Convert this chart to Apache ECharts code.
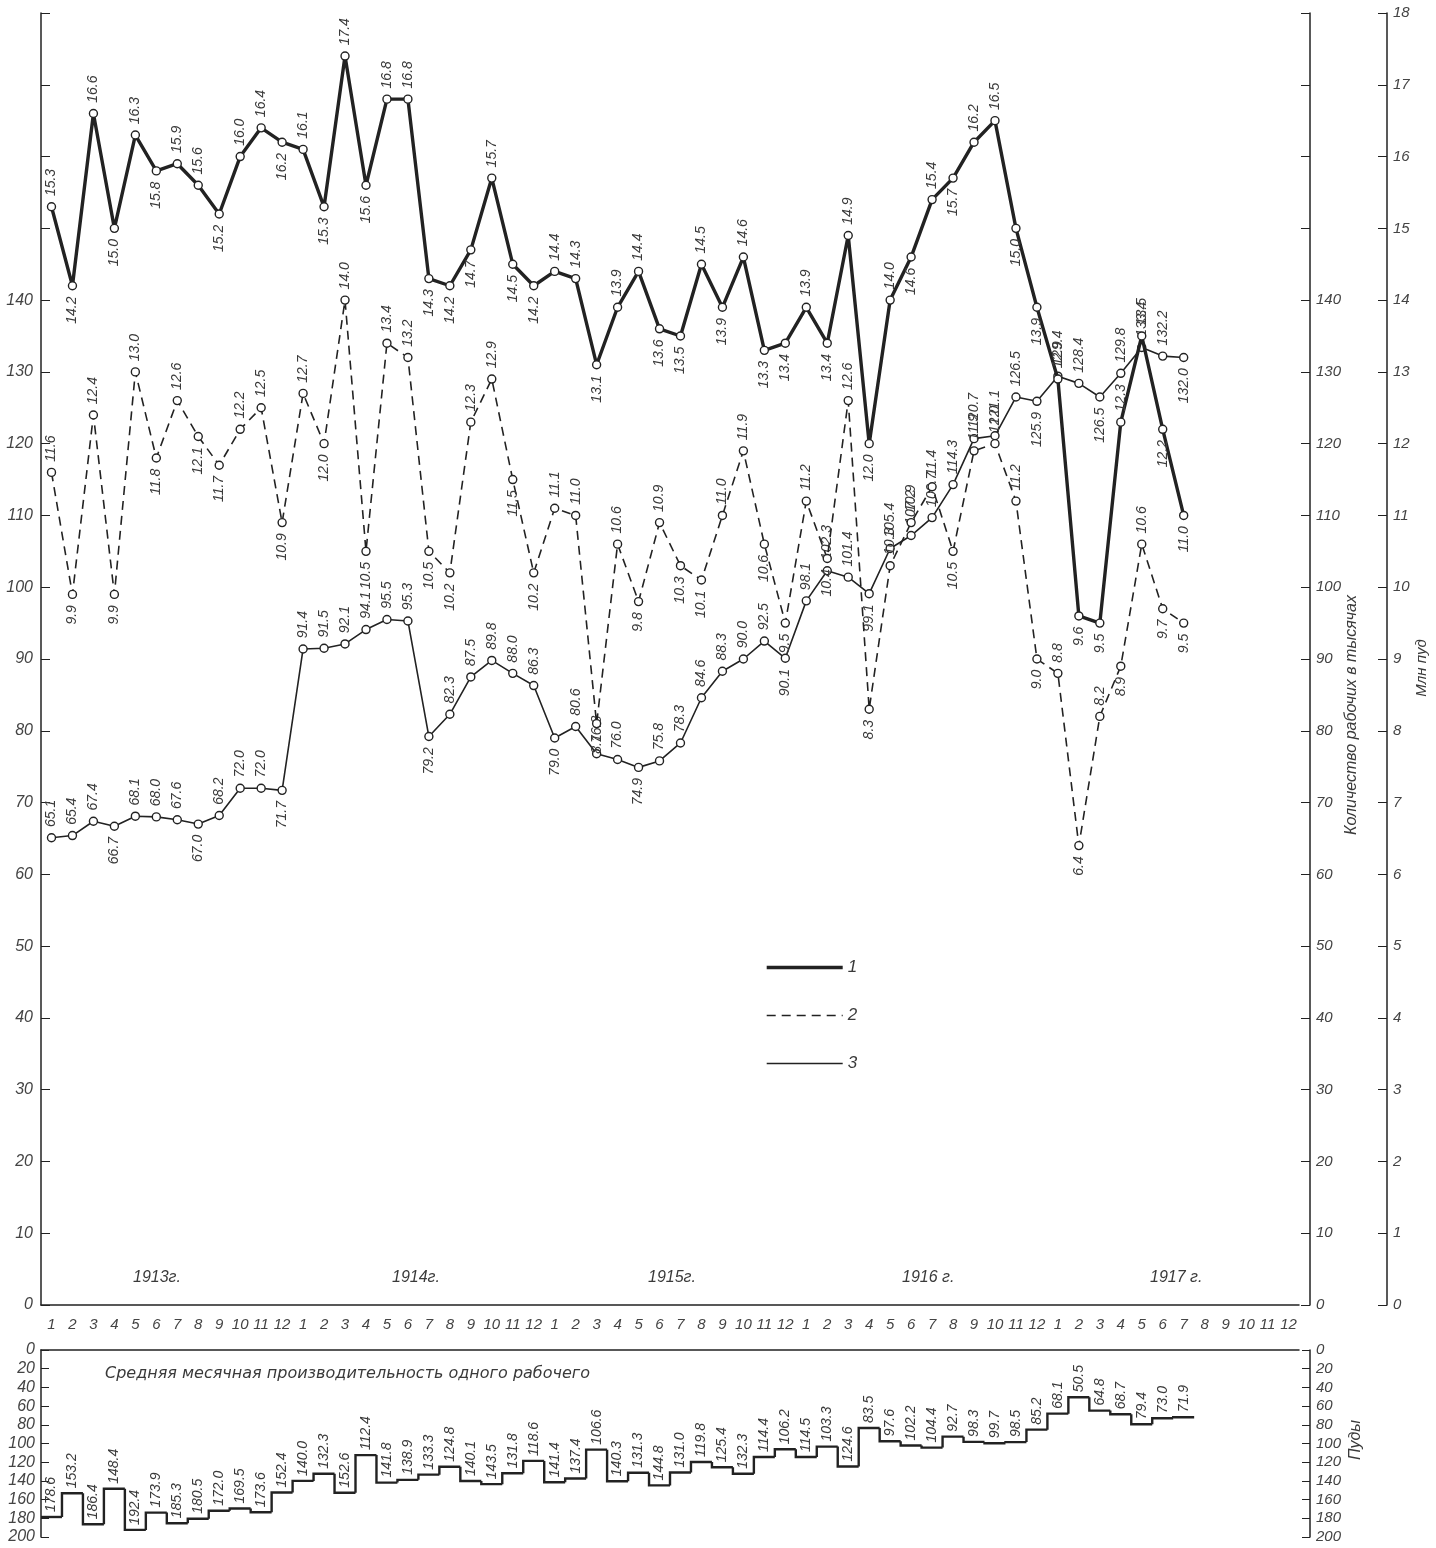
<!DOCTYPE html>
<html><head><meta charset="utf-8">
<script src="https://cdn.jsdelivr.net/npm/echarts@6/dist/echarts.min.js"></script>
<style>html,body{margin:0;padding:0;background:#fff}#c{width:1436px;height:1548px}</style>
</head><body><div id="c"></div>
<script>
// ---------- DATA ----------
const years = ['1913', '1914', '1915', '1916', '1917'];
const monthNames = ['1','2','3','4','5','6','7','8','9','10','11','12'];
const yearLabels = ['1913г.', '1914г.', '1915г.', '1916 г.', '1917 г.'];

// Series 1 (thick solid), mln pud
const series1 = [
  15.3, 14.2, 16.6, 15.0, 16.3, 15.8, 15.9, 15.6, 15.2, 16.0, 16.4, 16.2,
  16.1, 15.3, 17.4, 15.6, 16.8, 16.8, 14.3, 14.2, 14.7, 15.7, 14.5, 14.2,
  14.4, 14.3, 13.1, 13.9, 14.4, 13.6, 13.5, 14.5, 13.9, 14.6, 13.3, 13.4,
  13.9, 13.4, 14.9, 12.0, 14.0, 14.6, 15.4, 15.7, 16.2, 16.5, 15.0, 13.9,
  12.9, 9.6, 9.5, 12.3, 13.5, 12.2, 11.0
];
// Series 2 (dashed), mln pud
const series2 = [
  11.6, 9.9, 12.4, 9.9, 13.0, 11.8, 12.6, 12.1, 11.7, 12.2, 12.5, 10.9,
  12.7, 12.0, 14.0, 10.5, 13.4, 13.2, 10.5, 10.2, 12.3, 12.9, 11.5, 10.2,
  11.1, 11.0, 8.1, 10.6, 9.8, 10.9, 10.3, 10.1, 11.0, 11.9, 10.6, 9.5,
  11.2, 10.4, 12.6, 8.3, 10.3, 10.9, 11.4, 10.5, 11.9, 12.0, 11.2, 9.0,
  8.8, 6.4, 8.2, 8.9, 10.6, 9.7, 9.5
];
// Series 3 (thin solid), workers, thousands
const series3 = [
  65.1, 65.4, 67.4, 66.7, 68.1, 68.0, 67.6, 67.0, 68.2, 72.0, 72.0, 71.7,
  91.4, 91.5, 92.1, 94.1, 95.5, 95.3, 79.2, 82.3, 87.5, 89.8, 88.0, 86.3,
  79.0, 80.6, 76.8, 76.0, 74.9, 75.8, 78.3, 84.6, 88.3, 90.0, 92.5, 90.1,
  98.1, 102.3, 101.4, 99.1, 105.4, 107.2, 109.7, 114.3, 120.7, 121.1, 126.5, 125.9,
  129.4, 128.4, 126.5, 129.8, 133.4, 132.2, 132.0
];
// Average monthly productivity per worker, pud
const productivity = [
  178.6, 153.2, 186.4, 148.4, 192.4, 173.9, 185.3, 180.5, 172.0, 169.5, 173.6, 152.4,
  140.0, 132.3, 152.6, 112.4, 141.8, 138.9, 133.3, 124.8, 140.1, 143.5, 131.8, 118.6,
  141.4, 137.4, 106.6, 140.3, 131.3, 144.8, 131.0, 119.8, 125.4, 132.3, 114.4, 106.2,
  114.5, 103.3, 124.6, 83.5, 97.6, 102.2, 104.4, 92.7, 98.3, 99.7, 98.5, 85.2,
  68.1, 50.5, 64.8, 68.7, 79.4, 73.0, 71.9
];
const legendNames = ['1', '2', '3'];
const workersTitle = 'Количество рабочих в тысячах';
const mlnTitle = 'Млн пуд';
const prodTitle = 'Средняя месячная производительность одного рабочего';
const pudTitle = 'Пуды';

// ---------- BUILD ----------
const categories = [];
years.forEach(y => monthNames.forEach(m => categories.push(y + '-' + m)));

const FONT = "'Liberation Sans Narrow','Liberation Sans','DejaVu Sans Condensed',sans-serif";
const INK = '#222';
const TXT = '#3a3a3a';

function side(arr, i, lowBias) {
  const v = arr[i];
  const p = i > 0 ? arr[i - 1] : v;
  const n = i < arr.length - 1 ? arr[i + 1] : v;
  if (lowBias) return (v < p && v <= n) ? 'bottom' : 'top';
  return v >= (p + n) / 2 ? 'top' : 'bottom';
}
function labeled(arr, lowBias) {
  return arr.map((v, i) => {
    const pos = side(arr, i, lowBias);
    return { value: v, label: { position: pos, align: pos === 'top' ? 'left' : 'right' } };
  });
}
const pointLabel = {
  show: true, rotate: 90, verticalAlign: 'middle', distance: 6,
  fontFamily: FONT, fontStyle: 'italic', fontSize: 14, color: TXT,
  formatter: p => Number(p.value).toFixed(1)
};
const axisLabelStyle = { fontFamily: FONT, fontStyle: 'italic', fontSize: 16, color: '#444' };
const lineStyles = {
  '1': { color: INK, width: 3.4 },
  '2': { color: INK, width: 1.6, type: [9, 6] },
  '3': { color: INK, width: 1.6 }
};

const chart = echarts.init(document.getElementById('c'), null, { renderer: 'canvas' });
const option = {
  animation: false,
  backgroundColor: '#fff',
  grid: [
    { left: 41, width: 1258, top: 13, height: 1292 },
    { left: 41, width: 1258, top: 1350, height: 187 }
  ],
  legend: {
    data: legendNames.map(n => ({ name: n, lineStyle: lineStyles[n] })),
    orient: 'vertical', left: 760, top: 954,
    itemWidth: 76, itemHeight: 14, itemGap: 31,
    itemStyle: { opacity: 0 },
    textStyle: { fontFamily: FONT, fontStyle: 'italic', fontSize: 17, color: TXT }
  },
  xAxis: [
    {
      type: 'category', gridIndex: 0, data: categories, boundaryGap: true, position: 'bottom',
      axisLine: { lineStyle: { color: INK, width: 1.5 } },
      axisTick: { inside: true, length: 7, alignWithLabel: true, lineStyle: { color: INK } },
      axisLabel: Object.assign({ interval: 0, margin: 12, formatter: v => v.split('-')[1] }, axisLabelStyle, { fontSize: 15 }),
      splitLine: { show: false }
    },
    {
      type: 'category', gridIndex: 1, data: categories, boundaryGap: true, position: 'top',
      axisLine: { lineStyle: { color: INK, width: 1.5 } },
      axisTick: { inside: false, length: 6, alignWithLabel: true, lineStyle: { color: INK } },
      axisLabel: { show: false }, splitLine: { show: false }
    }
  ],
  yAxis: [
    {
      type: 'value', gridIndex: 0, position: 'left', min: 0, max: 180, interval: 10,
      axisLine: { show: true, lineStyle: { color: INK, width: 1.5 } },
      axisTick: { show: true, inside: true, length: 9, lineStyle: { color: INK } },
      axisLabel: Object.assign({ margin: 8, formatter: v => v <= 140 ? String(v) : '' }, axisLabelStyle),
      splitLine: { show: false }
    },
    {
      type: 'value', gridIndex: 0, position: 'right', offset: 11, min: 0, max: 180, interval: 10,
      axisLine: { show: true, lineStyle: { color: INK, width: 1.5 } },
      axisTick: { show: true, inside: true, length: 9, lineStyle: { color: INK } },
      axisLabel: Object.assign({ margin: 6, formatter: v => v <= 140 ? String(v) : '' }, axisLabelStyle, { fontSize: 15 }),
      splitLine: { show: false }
    },
    {
      type: 'value', gridIndex: 0, position: 'right', offset: 88, min: 0, max: 18, interval: 1,
      axisLine: { show: true, lineStyle: { color: INK, width: 1.5 } },
      axisTick: { show: true, inside: true, length: 9, lineStyle: { color: INK } },
      axisLabel: Object.assign({ margin: 6 }, axisLabelStyle, { fontSize: 15 }),
      splitLine: { show: false }
    },
    {
      type: 'value', gridIndex: 1, position: 'left', min: 0, max: 200, interval: 20, inverse: true,
      axisLine: { show: true, lineStyle: { color: INK, width: 1.5 } },
      axisTick: { show: true, inside: true, length: 8, lineStyle: { color: INK } },
      axisLabel: Object.assign({ margin: 6 }, axisLabelStyle, { fontSize: 16 }),
      splitLine: { show: false }
    },
    {
      type: 'value', gridIndex: 1, position: 'right', offset: 11, min: 0, max: 200, interval: 20, inverse: true,
      axisLine: { show: true, lineStyle: { color: INK, width: 1.5 } },
      axisTick: { show: true, inside: true, length: 8, lineStyle: { color: INK } },
      axisLabel: Object.assign({ margin: 6 }, axisLabelStyle, { fontSize: 15 }),
      splitLine: { show: false }
    }
  ],
  series: [
    {
      name: '3', type: 'line', xAxisIndex: 0, yAxisIndex: 1, z: 2,
      data: labeled(series3, true),
      lineStyle: lineStyles['3'],
      symbol: 'circle', symbolSize: 8,
      itemStyle: { color: '#fff', borderColor: INK, borderWidth: 1.4 },
      label: pointLabel
    },
    {
      name: '2', type: 'line', xAxisIndex: 0, yAxisIndex: 2, z: 3,
      data: labeled(series2, false),
      lineStyle: lineStyles['2'],
      symbol: 'circle', symbolSize: 8,
      itemStyle: { color: '#fff', borderColor: INK, borderWidth: 1.4 },
      label: pointLabel
    },
    {
      name: '1', type: 'line', xAxisIndex: 0, yAxisIndex: 2, z: 4,
      data: labeled(series1, false),
      lineStyle: lineStyles['1'],
      symbol: 'circle', symbolSize: 8,
      itemStyle: { color: '#fff', borderColor: INK, borderWidth: 1.4 },
      label: pointLabel
    },
    {
      name: 'prod', type: 'custom', xAxisIndex: 1, yAxisIndex: 3,
      data: productivity.map((v, i) => [i, v, i > 0 ? productivity[i - 1] : v]),
      encode: { x: 0, y: 1 },
      renderItem: function (params, api) {
        const i = api.value(0), v = api.value(1), pv = api.value(2);
        const p = api.coord([i, v]);
        const yPrev = api.coord([i, pv])[1];
        const bw = api.size([1, 0])[0];
        const x0 = p[0] - bw / 2, x1 = p[0] + bw / 2;
        return {
          type: 'group',
          children: [
            { type: 'polyline', shape: { points: [[x0, yPrev], [x0, p[1]], [x1, p[1]]] },
              style: { stroke: INK, lineWidth: 2.4, fill: null } },
            { type: 'text', x: p[0], y: p[1] - 5, rotation: Math.PI / 2,
              style: { text: v.toFixed(1), align: 'left', verticalAlign: 'middle',
                textAlign: 'left', textVerticalAlign: 'middle',
                fill: TXT, fontFamily: FONT, fontStyle: 'italic', fontSize: 14 } }
          ]
        };
      }
    }
  ],
  graphic: [
    ...yearLabels.map((t, k) => ({
      type: 'text', x: [133, 392, 648, 902, 1150][k], y: 1270,
      style: { text: t, fill: TXT, fontFamily: FONT, fontStyle: 'italic', fontSize: 16 }
    })),
    { type: 'text', x: 1352, y: 715, rotation: Math.PI / 2,
      style: { text: workersTitle, align: 'center', verticalAlign: 'middle', textAlign: 'center', textVerticalAlign: 'middle',
        fill: TXT, fontFamily: FONT, fontStyle: 'italic', fontSize: 16 } },
    { type: 'text', x: 1422, y: 668, rotation: Math.PI / 2,
      style: { text: mlnTitle, align: 'center', verticalAlign: 'middle', textAlign: 'center', textVerticalAlign: 'middle',
        fill: TXT, fontFamily: FONT, fontStyle: 'italic', fontSize: 15 } },
    { type: 'text', x: 1356, y: 1440, rotation: Math.PI / 2,
      style: { text: pudTitle, align: 'center', verticalAlign: 'middle', textAlign: 'center', textVerticalAlign: 'middle',
        fill: TXT, fontFamily: FONT, fontStyle: 'italic', fontSize: 16 } },
    { type: 'text', x: 105, y: 1366,
      style: { text: prodTitle, fill: TXT, fontFamily: "'DejaVu Sans',sans-serif", fontStyle: 'italic', fontSize: 16 } }
  ]
};
chart.setOption(option);
</script>
</body></html>
